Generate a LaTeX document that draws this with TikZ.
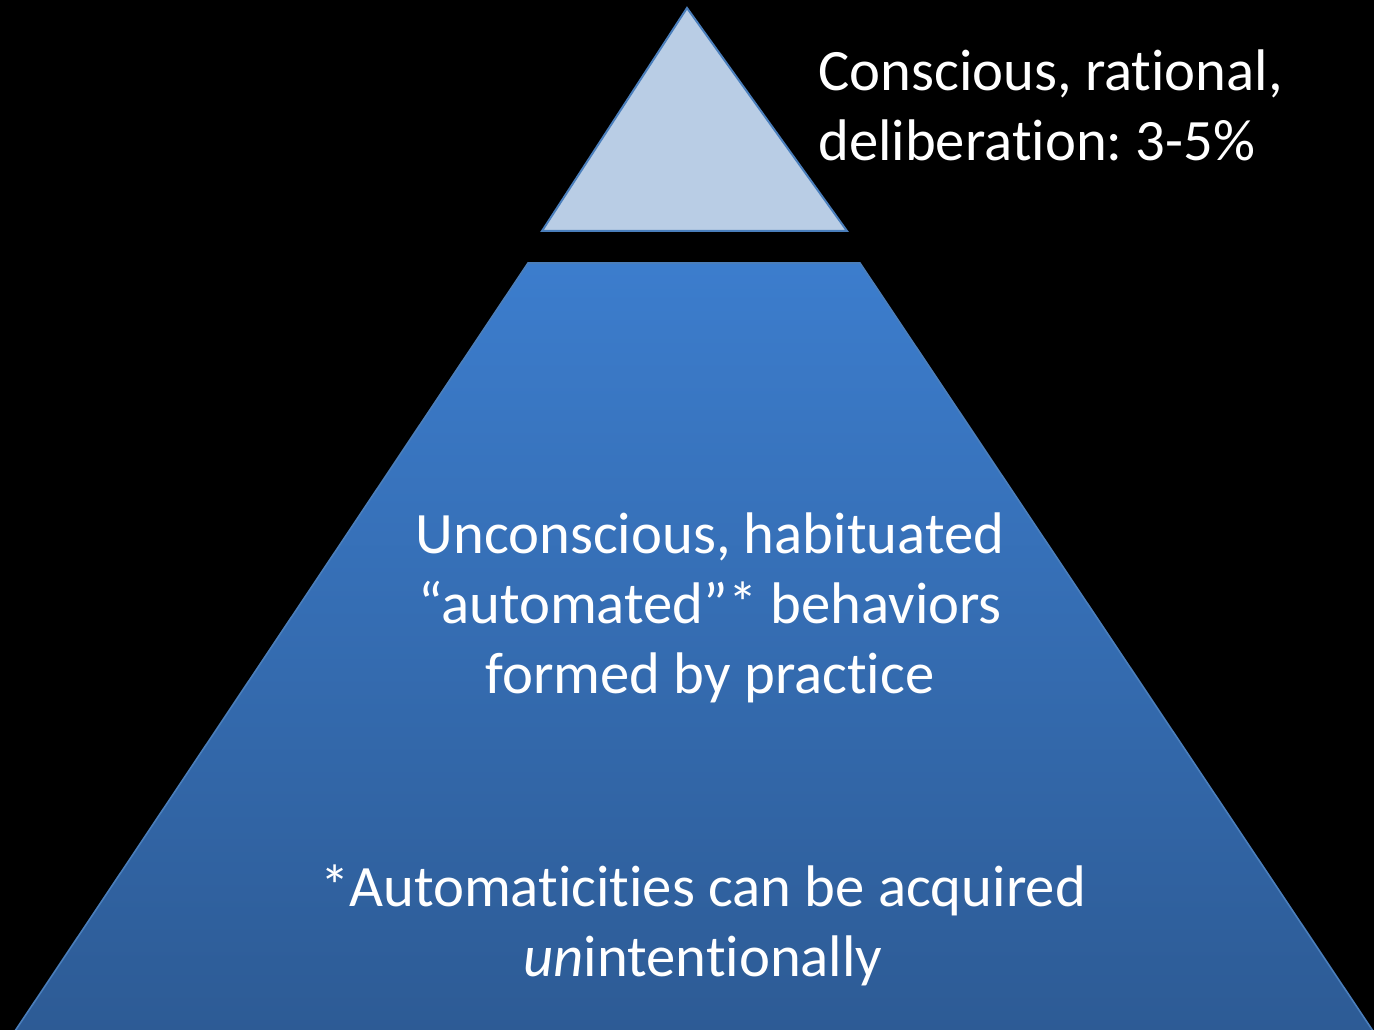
\documentclass[tikz,border=0pt]{standalone}
\usepackage{fontspec}
\setmainfont[RawFeature={-liga;-dlig}]{Carlito}
\begin{document}
\frenchspacing
\begin{tikzpicture}[x=0.75pt,y=-0.75pt,
  label/.style={text=white,font=\fontsize{44}{52.5}\selectfont,align=center,inner sep=0pt},
  edge/.style={draw=edgeblue,line width=1.5pt,line join=miter}]
\definecolor{edgeblue}{HTML}{4A7EBB}
\definecolor{tipfill}{HTML}{B9CDE5}
\definecolor{basetop}{HTML}{3C7DCD}
\definecolor{basebot}{HTML}{2D5B95}
% black page
\fill[black] (0,0) rectangle (1374,1030);
\useasboundingbox (0,0) rectangle (1374,1030);
% upper tip of the pyramid
\coordinate (apex) at (687,8);
\coordinate (tl) at (542,231);
\coordinate (tr) at (847,231);
\filldraw[edge,fill=tipfill] (apex) -- (tr) -- (tl) -- cycle;
% lower body of the pyramid
\coordinate (bl) at (528,263);
\coordinate (br) at (860,263);
\coordinate (fl) at (15,1031);
\coordinate (fr) at (1373,1031);
\shade[top color=basetop,bottom color=basebot] (bl) -- (br) -- (fr) -- (fl) -- cycle;
\draw[edgeblue,line width=1.2pt] (fl) -- (bl) -- (br) -- (fr);
% texts
\node[label,align=left,anchor=north west] (tip) at (818,50) {Conscious, rational,\\deliberation: 3-5\%};
\node[label] (mid) at (710,608) {Unconscious, habituated\\``automated''* behaviors\\formed by practice};
\node[label] (note) at (703,925) {*Automaticities can be acquired\\\textit{un}intentionally};
\end{tikzpicture}
\end{document}
